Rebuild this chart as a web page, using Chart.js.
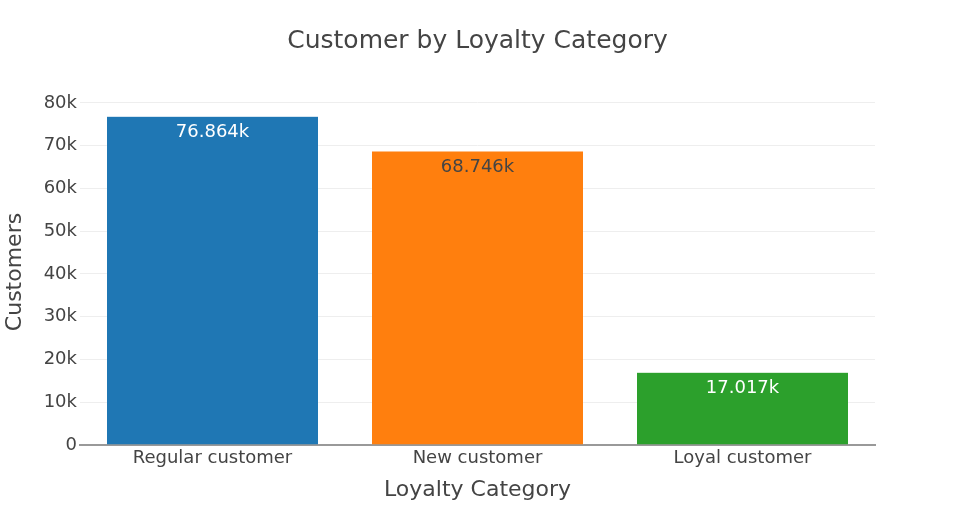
<!DOCTYPE html>
<html>
<head>
<meta charset="utf-8">
<script src="https://cdn.jsdelivr.net/npm/chart.js@4"></script>
<style>
  html, body { margin: 0; padding: 0; background: #fff; }
  #wrap { width: 955px; height: 525px; }
</style>
</head>
<body>
<div id="wrap"><canvas id="c" width="955" height="525"></canvas></div>
<script>
const categories = ["Regular customer", "New customer", "Loyal customer"];
const customers = [76864, 68746, 17017];
const barColors = ["#1f77b4", "#ff7f0e", "#2ca02c"];
const labelColors = ["#ffffff", "#444444", "#ffffff"];
const yTickValues = [0, 10000, 20000, 30000, 40000, 50000, 60000, 70000, 80000];
const yTickLabels = ["0", "10k", "20k", "30k", "40k", "50k", "60k", "70k", "80k"];
const dataLabels = ["76.864k", "68.746k", "17.017k"];

const FONT = "'DejaVu Sans', Verdana, sans-serif";

const valueLabels = {
  id: 'valueLabels',
  afterDatasetsDraw(chart) {
    const ctx = chart.ctx;
    const meta = chart.getDatasetMeta(0);
    ctx.save();
    ctx.font = "18px " + FONT;
    ctx.textAlign = 'center';
    ctx.textBaseline = 'middle';
    meta.data.forEach((bar, i) => {
      ctx.fillStyle = labelColors[i];
      ctx.fillText(dataLabels[i], bar.x, bar.y + 16);
    });
    ctx.restore();
  }
};

new Chart(document.getElementById('c'), {
  type: 'bar',
  data: {
    labels: categories,
    datasets: [{
      data: customers,
      backgroundColor: barColors,
      borderColor: 'rgba(255,255,255,0.6)',
      borderWidth: 0.5,
      barPercentage: 0.8,
      categoryPercentage: 1.0
    }]
  },
  options: {
    responsive: false,
    animation: false,
    devicePixelRatio: 1,
    layout: { padding: { left: 0, right: 0, top: 0, bottom: 0 } },
    plugins: {
      legend: { display: false },
      tooltip: { enabled: false },
      title: {
        display: true,
        text: "Customer by Loyalty Category",
        color: '#444',
        font: { family: FONT, size: 25, weight: 'normal' },
        padding: { top: 26, bottom: 43 }
      }
    },
    scales: {
      x: {
        grid: { display: false, drawTicks: false },
        border: { display: true, color: '#999', width: 2 },
        ticks: { color: '#444', font: { family: FONT, size: 18 }, padding: 3, maxRotation: 0 },
        title: {
          display: true, text: "Loyalty Category", color: '#444',
          font: { family: FONT, size: 22 }, padding: { top: 0, bottom: 22 }
        },
        afterFit(scale) { scale.height = 80; }
      },
      y: {
        min: 0,
        max: 80910,
        afterBuildTicks(scale) { scale.ticks = yTickValues.map(v => ({ value: v })); },
        grid: { color: '#eeeeee', lineWidth: 1, drawTicks: false },
        border: { display: false },
        ticks: {
          color: '#444', font: { family: FONT, size: 18 }, padding: 3,
          callback(value) { const i = yTickValues.indexOf(value); return i >= 0 ? yTickLabels[i] : ''; }
        },
        title: {
          display: true, text: "Customers", color: '#444',
          font: { family: FONT, size: 22 }, padding: { top: 2, bottom: 0 }
        },
        afterFit(scale) { scale.width = 80; }
      },
      yRight: {
        position: 'right',
        display: true,
        grid: { display: false, drawTicks: false },
        border: { display: false },
        ticks: { display: false },
        afterFit(scale) { scale.width = 80; }
      }
    }
  },
  plugins: [valueLabels]
});
</script>
</body>
</html>
